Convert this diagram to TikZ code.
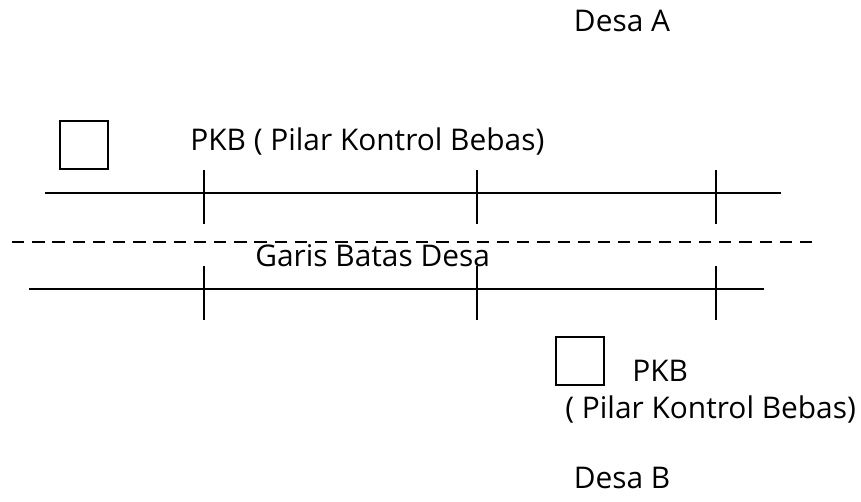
\documentclass[tikz,border=0pt]{standalone}
\usepackage{fontspec}
\setmainfont{Open Sans}
\usetikzlibrary{positioning}
\begin{document}
\begin{tikzpicture}[x=0.02cm, y=-0.02cm,
    garis/.style ={line width=1.1pt},
    pilar/.style ={draw, line width=1.1pt, minimum size=0.96cm, inner sep=0pt},
    teks/.style ={font=\fontsize{17}{20}\selectfont, inner sep=0pt}]
   \useasboundingbox (0,0) rectangle (861,501);
   % desa
   \node[teks] (desaA) at (622,21) {Desa A};
   \node[teks] (desaB) at (622,478) {Desa B};
   % pilar kontrol bebas
   \node[pilar] (pkb1) at (84,145) {};
   \node[teks, anchor=west] (ket1) at (190,142) {PKB ( Pilar Kontrol Bebas)};
   \node[pilar] (pkb2) at (580,361) {};
   \node[teks, anchor=west] (ket2) at (632,371) {PKB};
   \node[teks, anchor=west] (ket2b) at (565,410) {( Pilar Kontrol Bebas)};
   % jalan atas dan bawah
   \coordinate (a1) at (45,193);  \coordinate (a2) at (781,193);
   \coordinate (b1) at (29,289);  \coordinate (b2) at (764,289);
   \draw[garis] (a1) -- (a2);
   \draw[garis] (b1) -- (b2);
   \foreach \x in {204,477,716} {
     \draw[garis] (\x,170) -- (\x,224);
     \draw[garis] (\x,266) -- (\x,320);
   }
   % batas desa
   \coordinate (d1) at (12,242);  \coordinate (d2) at (813,242);
   \draw[line width=1pt, dash pattern=on 7pt off 4.5pt] (d1) -- (d2);
   \node[teks, anchor=west] (batas) at (255,256) {Garis Batas Desa};
\end{tikzpicture}
\end{document}
